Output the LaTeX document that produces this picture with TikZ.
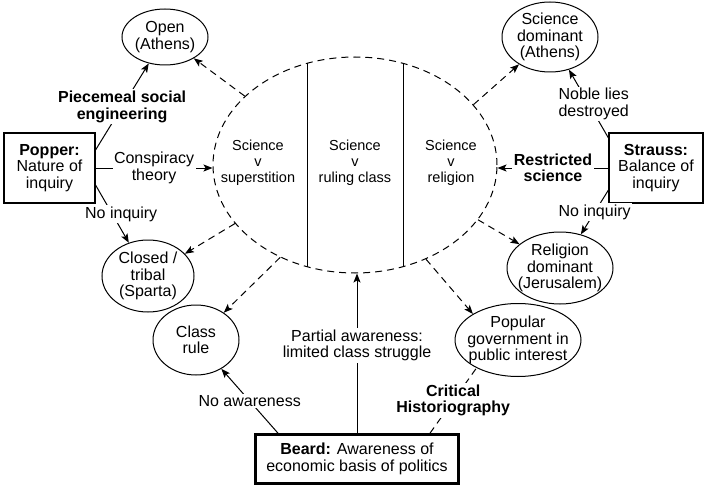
\documentclass[tikz,border=0pt]{standalone}
\usepackage{fontspec}
\setmainfont{Liberation Sans}
\usepackage{tikz}
\usetikzlibrary{arrows.meta,shapes.geometric}
\newcommand{\figfont}{\fontsize{16}{16.5}\selectfont}
\tikzset{thinker/.style = {rectangle, draw=black, line width=1.1pt,
                           minimum width=91pt, minimum height=70pt,
                           inner sep=2pt, align=center}}

\begin{document}
\begin{tikzpicture}[x=1pt, y=-1pt, line width=1pt, font=\figfont,
  oval/.style = {draw, ellipse, inner sep=0pt},
  arr/.style = {-{Stealth[length=9pt, width=7pt, inset=2pt]}},
  weak/.style = {dash pattern=on 7pt off 5pt},
  lbl/.style = {fill=white, align=center, inner sep=1.5pt},
  keylbl/.style = {lbl, font=\figfont\bfseries},
  inner/.style = {align=center, font=\fontsize{14.5}{16}\selectfont}]
\useasboundingbox (0,0) rectangle (705,487);
\node[draw, ellipse, weak, minimum width=284pt, minimum height=216pt] (field) at (355,165) {};
\coordinate (d1top) at (307,63.4);
\coordinate (d1bot) at (307,266.6);
\coordinate (d2top) at (403,63.4);
\coordinate (d2bot) at (403,266.6);
\draw (d1top) -- (d1bot);
\draw (d2top) -- (d2bot);
\node[inner] (sup) at (258,163) {Science\\v\\superstition};
\node[inner] (rul) at (355,163) {Science\\v\\ruling class};
\node[inner] (rel) at (451,163) {Science\\v\\religion};
\node[thinker] (popper) at (49.5,168) {\textbf{Popper:}\\Nature of\\inquiry};
\node[thinker, minimum width=94pt] (strauss) at (656,168) {\textbf{Strauss:}\\Balance of\\inquiry};
\node[thinker, line width=2.6pt, minimum width=203pt, minimum height=49pt] (beard) at (357,459) {\textbf{Beard:} Awareness of\\economic basis of politics};
\node[oval, minimum width=86pt, minimum height=56pt, label={[align=center]center:{Open\\(Athens)}}] (open) at (165,37) {};
\node[oval, minimum width=92pt, minimum height=72pt, label={[align=center]center:{Closed /\\tribal\\(Sparta)}}] (closed) at (148,276) {};
\node[oval, minimum width=86pt, minimum height=70pt, label={[align=center]center:{Class\\rule}}] (classrule) at (196,340) {};
\node[oval, minimum width=96pt, minimum height=70pt, label={[align=center]center:{Science\\dominant\\(Athens)}}] (scidom) at (550,37) {};
\node[oval, minimum width=106pt, minimum height=72pt, label={[align=center]center:{Religion\\dominant\\(Jerusalem)}}] (religion) at (560,268) {};
\node[oval, minimum width=126pt, minimum height=73pt, label={[align=center]center:{Popular\\government in\\public interest}}] (popular) at (518,340) {};
\draw[weak, arr] (field.148) -- (open);
\draw[weak, arr] (field.206) -- (closed);
\draw[weak, arr] (field.231) -- (classrule);
\draw[weak, arr] (field.27) -- (scidom);
\draw[weak, arr] (field.336) -- (religion);
\draw[weak, arr] (field.307) -- (popular.150);
\draw[arr] ([yshift=18pt]popper.east) -- node[keylbl] {Piecemeal social\\engineering} (open);
\draw[arr] (popper.east) -- node[lbl] {Conspiracy\\theory} (popper.east -| field.west);
\draw[arr] ([yshift=-17pt]popper.east) -- node[lbl, xshift=9pt] {No inquiry} (closed);
\draw[arr] ([yshift=30pt]strauss.west) -- node[lbl, xshift=5pt] {Noble lies\\destroyed} (scidom);
\draw[arr] (strauss.west) -- node[keylbl] {Restricted\\science} (strauss.west -| field.east);
\draw[arr] ([yshift=-22pt]strauss.west) -- node[lbl] {No inquiry} (religion);
\draw[arr] ([xshift=-79pt]beard.north) -- node[lbl] {No awareness} (classrule);
\draw[arr] (beard.north) -- node[lbl, pos=0.55] {Partial awareness:\\limited class struggle} (beard.north |- field.south);
\draw[weak] ([xshift=73pt]beard.north) -- node[keylbl] {Critical\\Historiography} (popular.214);
\end{tikzpicture}
\end{document}
